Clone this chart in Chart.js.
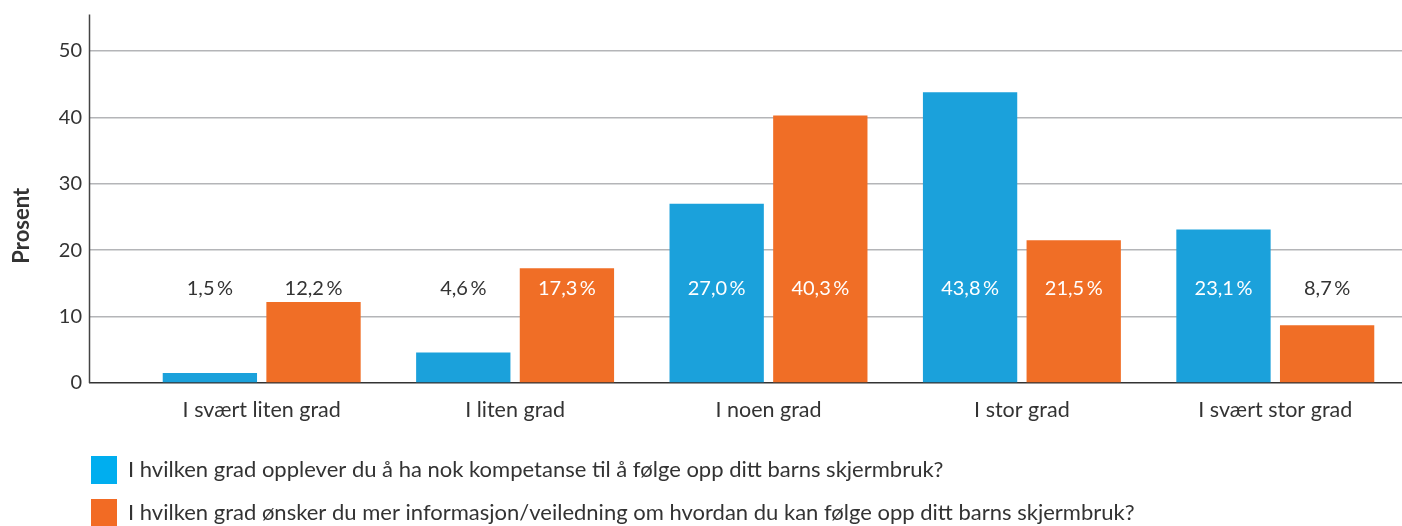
<!DOCTYPE html>
<html>
<head>
<meta charset="utf-8">
<script src="https://cdn.jsdelivr.net/npm/chart.js@4.4.1/dist/chart.umd.min.js"></script>
<style>
html,body{margin:0;padding:0;background:#fff;}
#wrap{width:1402px;height:526px;position:relative;}
</style>
</head>
<body>
<div id="wrap"><canvas id="c" width="1402" height="526"></canvas></div>
<script>
const categories = ["I svært liten grad", "I liten grad", "I noen grad", "I stor grad", "I svært stor grad"];
const seriesNames = [
  "I hvilken grad opplever du å ha nok kompetanse til å følge opp ditt barns skjermbruk?",
  "I hvilken grad ønsker du mer informasjon/veiledning om hvordan du kan følge opp ditt barns skjermbruk?"
];
const kompetanse = [1.5, 4.6, 27.0, 43.8, 23.1];
const informasjon = [12.2, 17.3, 40.3, 21.5, 8.7];
const yTicks = [0, 10, 20, 30, 40, 50];
const yTitle = "Prosent";

const BAR_BLUE = '#1ba1db', BAR_ORANGE = '#f06e26';
const LEG_BLUE = '#00aeef', LEG_ORANGE = '#f26b24';
const TEXT = '#333333';
const FONT = "Lato, 'Open Sans', sans-serif";
const LABEL_LEVEL = 14.3;

const fmt = v => v.toFixed(1).replace('.', ',') + '\u2009%';

const valueLabels = {
  id: 'valueLabels',
  afterDatasetsDraw(chart) {
    const ctx = chart.ctx;
    const y = chart.scales.y.getPixelForValue(LABEL_LEVEL);
    ctx.save();
    ctx.font = "20px " + FONT;
    ctx.textAlign = 'center';
    ctx.textBaseline = 'middle';
    chart.data.datasets.forEach((ds, di) => {
      const meta = chart.getDatasetMeta(di);
      meta.data.forEach((el, i) => {
        const inside = el.y < y - 14;
        ctx.fillStyle = inside ? '#ffffff' : TEXT;
        ctx.fillText(fmt(ds.data[i]), el.x, y);
      });
    });
    ctx.restore();
  }
};

const axisDecor = {
  id: 'axisDecor',
  afterDraw(chart) {
    const ctx = chart.ctx, a = chart.chartArea;
    const x = a.left - 46 + 0.5;
    ctx.save();
    ctx.strokeStyle = '#444';
    ctx.lineWidth = 1.5;
    ctx.beginPath();
    ctx.moveTo(x, a.top);
    ctx.lineTo(x, a.bottom);
    ctx.stroke();
    // y-axis title
    ctx.translate(22, (a.top + a.bottom) / 2 + 27);
    ctx.rotate(-Math.PI / 2);
    ctx.font = "bold 22px " + FONT;
    ctx.fillStyle = TEXT;
    ctx.textAlign = 'center';
    ctx.textBaseline = 'middle';
    ctx.fillText(yTitle, 0, 0);
    ctx.restore();
  },
  afterLayout(chart) {
    if (chart.legend) {
      const h = chart.legend.height;
      chart.legend.left = 76;
      chart.legend.top = 441;
      chart.legend.bottom = 441 + h;
    }
  }
};

new Chart(document.getElementById('c'), {
  type: 'bar',
  data: {
    labels: categories,
    datasets: [
      { label: seriesNames[0], data: kompetanse, backgroundColor: BAR_BLUE, categoryPercentage: 0.818, barPercentage: 0.91 },
      { label: seriesNames[1], data: informasjon, backgroundColor: BAR_ORANGE, categoryPercentage: 0.818, barPercentage: 0.91 }
    ]
  },
  options: {
    responsive: false,
    animation: false,
    layout: { padding: { top: 14.5, left: 0, right: 0, bottom: 0 } },
    plugins: {
      tooltip: { enabled: false },
      legend: {
        position: 'bottom',
        align: 'start',
        labels: {
          boxWidth: 26,
          boxHeight: 28,
          padding: 15,
          color: TEXT,
          font: { family: FONT, size: 22 },
          generateLabels(chart) {
            const cols = [LEG_BLUE, LEG_ORANGE];
            return chart.data.datasets.map((ds, i) => ({
              text: ds.label, fillStyle: cols[i], strokeStyle: cols[i], lineWidth: 0,
              hidden: false, datasetIndex: i, fontColor: TEXT
            }));
          }
        }
      }
    },
    scales: {
      x: {
        grid: { display: false, drawTicks: false },
        border: { display: false },
        ticks: { color: TEXT, font: { family: FONT, size: 21.5 }, padding: 14, maxRotation: 0, autoSkip: false },
        afterFit(scale) { scale.height = 47; }
      },
      y: {
        min: 0,
        max: 55.5,
        afterBuildTicks(scale) { scale.ticks = yTicks.map(v => ({ value: v })); },
        grid: {
          color: ctx => ctx.tick && ctx.tick.value === 0 ? '#333333' : '#b4b5b8',
          tickColor: ctx => ctx.tick && ctx.tick.value === 0 ? '#333333' : '#b4b5b8',
          lineWidth: 1.5,
          drawTicks: true,
          tickLength: 46
        },
        border: { display: false },
        ticks: { color: TEXT, font: { family: FONT, size: 20 }, padding: 7 },
        title: { display: false },
        afterFit(scale) { scale.width = 135; scale.paddingTop = 0; scale.paddingBottom = 0; }
      }
    }
  },
  plugins: [valueLabels, axisDecor]
});
</script>
</body>
</html>
